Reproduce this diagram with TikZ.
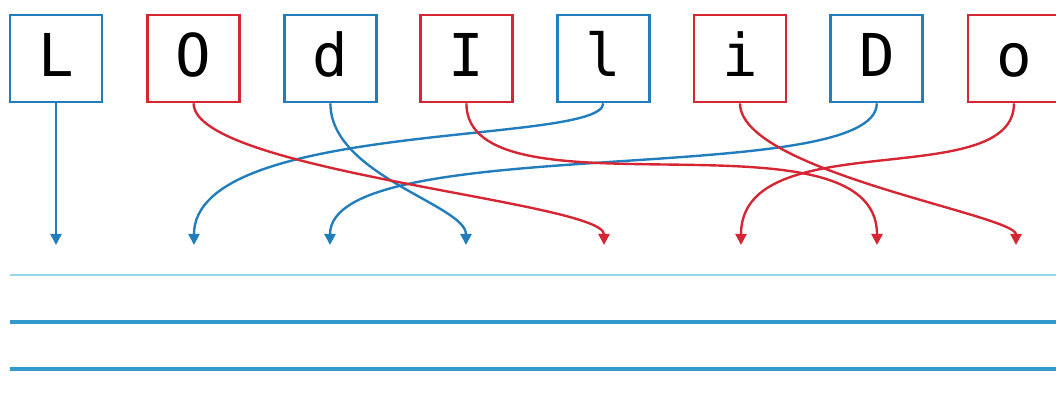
\documentclass[tikz,border=0pt]{standalone}
\usepackage{fontspec}
\newfontfamily\letterfont{DejaVu Sans Mono}
\usepackage{tikz}
\usetikzlibrary{arrows.meta}

\definecolor{letterblue}{RGB}{33,125,188}
\definecolor{letterred}{RGB}{214,38,51}
\definecolor{lightrule}{RGB}{150,215,232}
\definecolor{darkrule}{RGB}{50,155,205}

\begin{document}
\begin{tikzpicture}[
		letterbox/.style={draw, line width=1.9pt, fill=white, inner sep=0pt,
			minimum width=2.3cm, minimum height=2.175cm,
			text height=1.1cm, text depth=0.225cm,
			font=\letterfont\fontsize{42}{42}\selectfont},
		bluebox/.style={letterbox, draw=letterblue},
		redbox/.style={letterbox, draw=letterred},
		link/.style={line width=1.7pt, -{Triangle[length=0.28cm, width=0.28cm]}},
		writeline/.style={line width=2.4pt, darkrule}
	]
		\useasboundingbox (0,0) rectangle (26.4,10.35);

		% letters
		\node[bluebox] (L) at (1.4,8.8875) {L};
		\node[redbox] (O) at (4.84,8.8875) {O};
		\node[bluebox] (d) at (8.26,8.8875) {d};
		\node[redbox] (I) at (11.66,8.8875) {I};
		\node[bluebox] (l) at (15.08,8.8875) {l};
		\node[redbox] (i) at (18.5,8.8875) {i};
		\node[bluebox] (D) at (21.92,8.8875) {D};
		\node[redbox] (o) at (25.35,8.8875) {o};

		% arrow ends
		\coordinate (t0) at (1.4,4.225);
		\coordinate (t1) at (4.85,4.225);
		\coordinate (t2) at (8.25,4.225);
		\coordinate (t3) at (11.65,4.225);
		\coordinate (t4) at (15.1,4.225);
		\coordinate (t5) at (18.525,4.225);
		\coordinate (t6) at (21.925,4.225);
		\coordinate (t7) at (25.4,4.225);

		\draw[link, letterblue] (L.south) -- (t0);
		\draw[link, letterblue] (d.south) .. controls +(0,-1.8) and +(0,1.0) .. (t3);
		\draw[link, letterblue] (l.south) .. controls +(0,-1.05) and +(0,3.15) .. (t1);
		\draw[link, letterblue] (D.south) .. controls +(0,-2.15) and +(0,2.85) .. (t2);
		\draw[link, letterred] (O.south) .. controls +(0,-1.7) and +(0,1.08) .. (t4);
		\draw[link, letterred] (I.south) .. controls +(0,-3.0) and +(0,3.55) .. (t6);
		\draw[link, letterred] (i.south) .. controls +(0,-1.7) and +(0,0.75) .. (t7);
		\draw[link, letterred] (o.south) .. controls +(0,-2.25) and +(0,3.05) .. (t5);

		% writing lines
		\draw[line width=1.6pt, lightrule] (0.25,3.475) -- (26.4,3.475);
		\draw[writeline] (0.25,2.3) -- (26.4,2.3);
		\draw[writeline] (0.25,1.125) -- (26.4,1.125);
	\end{tikzpicture}
\end{document}
